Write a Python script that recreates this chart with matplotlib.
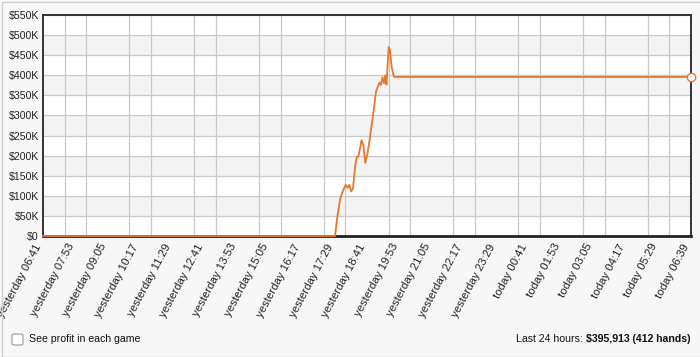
import numpy as np
import matplotlib
matplotlib.use("Agg")
import matplotlib.pyplot as plt
import matplotlib.transforms as mtransforms
from matplotlib.patches import FancyBboxPatch, Rectangle

# minutes since "yesterday 06:41" and cumulative profit in $K
minutes = [0, 648, 653.5, 659, 664.6, 671.3, 675.7, 679.7, 683.5, 688, 692.4, 696.1,
           699.7, 703.5, 706.8, 710.8, 715.2, 720.1, 725.7, 733, 739, 742.8, 746.7,
           750, 753.4, 756.7, 759.6, 762.3, 764.9, 767.1, 770, 773.8, 778.9, 1438]
profit_k = [0, 0, 50, 90, 110, 127, 120, 127, 111, 119, 172, 196,
            198, 218, 238, 227, 182, 205, 247, 305, 359, 371, 382,
            376, 395, 380, 400, 377, 428, 470, 462, 420, 396, 395.913]

tick_labels = ["yesterday 06:41", "yesterday 07:53", "yesterday 09:05", "yesterday 10:17",
               "yesterday 11:29", "yesterday 12:41", "yesterday 13:53", "yesterday 15:05",
               "yesterday 16:17", "yesterday 17:29", "yesterday 18:41", "yesterday 19:53",
               "yesterday 21:05", "yesterday 22:17", "yesterday 23:29", "today 00:41",
               "today 01:53", "today 03:05", "today 04:17", "today 05:29", "today 06:39"]
y_ticks = list(range(0, 551, 50))
x_end = 1438

plt.rcParams['font.family'] = ['Liberation Sans', 'DejaVu Sans']

fig = plt.figure(figsize=(7, 3.57), dpi=100)
fig.patch.set_facecolor("#f7f7f7")
fig.patches.append(Rectangle((2 / 700, 0), 1, 1 - 2 / 357, transform=fig.transFigure,
                             fill=False, edgecolor="#d0d0d0", linewidth=1))

ax = fig.add_axes([43 / 700, 1 - 236 / 357, 648 / 700, 221 / 357])
ax.set_facecolor("white")

# alternating bands
for lo in y_ticks[1:-1:2]:
    ax.axhspan(lo, lo + 50, color="#f3f3f3", zorder=0, lw=0)

ax.set_xlim(0, x_end)
ax.set_ylim(0, 550)

ax.set_yticks(y_ticks)
ax.set_yticklabels(["$0" if v == 0 else f"${v}K" for v in y_ticks])
ax.set_xticks(np.linspace(0, x_end, len(tick_labels)))
ax.set_xticklabels(tick_labels, rotation=62, ha="right", va="center",
                   rotation_mode="anchor")
ax.set_xticks(np.linspace(0, x_end, 31), minor=True)

ax.grid(True, axis="y", color="#c8c8c8", lw=0.9, zorder=1)
ax.grid(True, axis="x", which="minor", color="#c8c8c8", lw=0.9, zorder=1)
ax.tick_params(axis="both", which="both", length=0, labelsize=7.6, colors="#222222")
ax.tick_params(axis="x", labelsize=8.2, pad=6)
ax.tick_params(axis="y", pad=3)

offset = mtransforms.ScaledTranslation(-4 / 100, 0, fig.dpi_scale_trans)
for lbl in ax.get_xticklabels():
    lbl.set_transform(lbl.get_transform() + offset)

for side in ["top", "right", "left"]:
    ax.spines[side].set_color("#333333")
    ax.spines[side].set_linewidth(1.4)
ax.spines["bottom"].set_color("#222222")
ax.spines["bottom"].set_linewidth(2)

ax.plot(minutes, profit_k, color="#e8772e", lw=1.3, zorder=5, clip_on=False)
ax.plot([minutes[-1]], [profit_k[-1]], marker="o", ms=6, mfc="white",
        mec="#e8772e", mew=1, zorder=6, clip_on=False)

# footer
fig.patches.append(FancyBboxPatch((12 / 700, 1 - 345 / 357), 11 / 700, 11 / 357,
                                  boxstyle="round,pad=0,rounding_size=0.004",
                                  transform=fig.transFigure, facecolor="white",
                                  edgecolor="#999999", linewidth=0.8))
fig.text(29 / 700, 1 - 339 / 357, "See profit in each game", fontsize=7.6,
         color="#111111", va="center", ha="left")
bold = fig.text(690 / 700, 1 - 339 / 357, "$395,913 (412 hands)", fontsize=7.6,
                fontweight="bold", color="#111111", va="center", ha="right")
fig.text(0, 0.5, "Last 24 hours: ", fontsize=7.6, color="#111111",
         va="center", ha="right",
         transform=mtransforms.offset_copy(fig.transFigure, fig=fig))
plt.draw()
bb = bold.get_window_extent(fig.canvas.get_renderer())
fig.texts[-1].set_position((bb.x0 / fig.bbox.width, 1 - 339 / 357))

fig.savefig("out.png", dpi=100, facecolor=fig.get_facecolor())
